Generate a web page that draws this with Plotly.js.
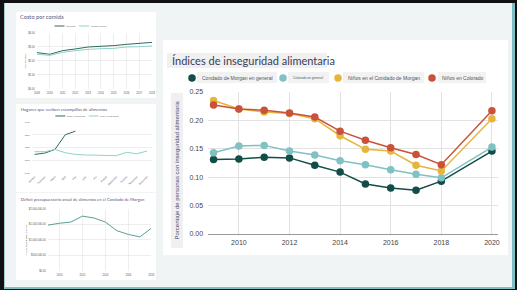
<!DOCTYPE html>
<html><head><meta charset="utf-8">
<script src="https://cdn.plot.ly/plotly-3.0.1.min.js"></script>
<style>
html,body{margin:0;padding:0;width:517px;height:292px;overflow:hidden;background:#fff;}
#black{position:absolute;left:0;top:0;width:517px;height:290px;background:#111;}
#inner{position:absolute;left:4px;top:3px;width:507px;height:284px;background:#f1f4f4;border-left:1px solid #9fd0d0;border-right:3px solid #7fbfc3;border-bottom:2px solid #7fbfc3;}
.chart{position:absolute;transform-origin:0 0;background:#fff;}
</style></head>
<body>
<div id="black"></div>
<div id="inner"></div>
<div id="c1" class="chart" style="left:16px;top:12px;transform:scale(0.3333);"></div>
<div id="c2" class="chart" style="left:16px;top:104px;transform:scale(0.3333);"></div>
<div id="c3" class="chart" style="left:16px;top:193px;transform:scale(0.3333);"></div>
<div id="cm" class="chart" style="left:163px;top:40px;transform:scale(0.5);"></div>
<script>
// ---------- data ----------
const mealYears = [2009,2010,2011,2012,2013,2014,2015,2016,2017,2018];
const mealColorado = [2.60,2.48,2.74,2.86,3.00,3.05,3.10,3.19,3.26,3.33];
const mealMorgan = [2.48,2.40,2.62,2.74,2.83,2.88,2.90,3.00,3.02,3.07];

const months = ['January','February','March','April','May','June','July','August','September','October','November','December'];
const households2020 = [1146,1156,1185,1300,1328];
const households2019 = [1167,1167,1185,1159,1146,1141,1140,1137,1136,1162,1151,1172];

const deficitYears = [2009,2010,2011,2012,2013,2014,2015,2016,2017,2018];
const deficitValues = [1480000,1540000,1580000,1770000,1710000,1580000,1300000,1180000,1100000,1380000];

const years = [2009,2010,2011,2012,2013,2014,2015,2016,2017,2018,2020];
const morganGeneral = [0.131,0.132,0.135,0.134,0.121,0.109,0.088,0.081,0.077,0.093,0.146];
const coloradoGeneral = [0.143,0.155,0.156,0.146,0.139,0.129,0.122,0.113,0.105,0.099,0.153];
const kidsMorgan = [0.235,0.220,0.215,0.212,0.203,0.173,0.149,0.146,0.121,0.111,0.203];
const kidsColorado = [0.227,0.220,0.218,0.213,0.206,0.181,0.165,0.152,0.140,0.122,0.217];
const seriesNames = ['Condado de Morgan en general','Colorado en general','Niños en el Condado de Morgan','Niños en Colorado'];

const cfg = {staticPlot:true, displayModeBar:false};
const tickFont = {family:'Liberation Sans, Arial, sans-serif', color:'#555'};
const darkGreen = '#2e6b5e', lightTeal = '#8fd1cc';

// ---------- panel 1: Costo por comida ----------
Plotly.newPlot('c1', [
  {x:mealYears, y:mealColorado, name:'Colorado', mode:'lines', line:{color:darkGreen, width:3}},
  {x:mealYears, y:mealMorgan, name:'Morgan County', mode:'lines', line:{color:lightTeal, width:3}}
], {
  width:420, height:258, margin:{l:63,r:12,t:63,b:27},
  paper_bgcolor:'#fff', plot_bgcolor:'#fff',
  title:{text:'Costo por comida', x:12/420, xref:'container', xanchor:'left', y:1-15/258, yref:'container', yanchor:'middle',
    font:{family:'Lato, sans-serif', size:17, color:'#55557a'}},
  showlegend:true,
  legend:{orientation:'h', x:0.38, xanchor:'center', y:1.125, yanchor:'middle', font:{size:7, color:'#666', family:'Liberation Sans'}},
  xaxis:{range:[2009,2018], dtick:1, showgrid:true, gridcolor:'#e6e6e6', gridwidth:2, zeroline:false,
    tickfont:{...tickFont, size:8}, ticks:'outside', ticklen:3, tickcolor:'rgba(0,0,0,0)'},
  yaxis:{range:[0,4], dtick:1, tickformat:'$.2f', showgrid:true, gridcolor:'#e6e6e6', gridwidth:2, zeroline:false,
    tickfont:{...tickFont, size:8}, ticks:'outside', ticklen:4, tickcolor:'rgba(0,0,0,0)',
    title:{text:'Cost Per Meal', font:{size:7, color:'#555', family:'Liberation Sans'}, standoff:4}}
}, cfg);

// ---------- panel 2: Hogares ----------
Plotly.newPlot('c2', [
  {x:months.slice(0,households2020.length), y:households2020, name:'2020 Households', mode:'lines', line:{color:darkGreen, width:3}},
  {x:months, y:households2019, name:'2019 Households', mode:'lines', line:{color:lightTeal, width:3}}
], {
  width:420, height:264, margin:{l:48,r:13,t:54,b:57},
  paper_bgcolor:'#fff', plot_bgcolor:'#fff',
  title:{text:'Hogares que reciben estampillas de alimentos', x:14/420, xref:'container', xanchor:'left', y:1-15/264, yref:'container', yanchor:'middle',
    font:{family:'Lato, sans-serif', size:13, color:'#55557a'}},
  showlegend:true,
  legend:{orientation:'h', x:0.46, xanchor:'center', y:1.118, yanchor:'middle', font:{size:7, color:'#666', family:'Liberation Sans'}},
  xaxis:{type:'category', range:[-0.25,11.45], showgrid:false, zeroline:false, tickangle:-45,
    tickfont:{...tickFont, size:7.5}, ticks:'outside', ticklen:3, tickcolor:'rgba(0,0,0,0)'},
  yaxis:{range:[1000,1400], dtick:100, showgrid:true, gridcolor:'#e6e6e6', gridwidth:2, zeroline:false,
    tickfont:{...tickFont, size:7}, ticks:'outside', ticklen:4, tickcolor:'rgba(0,0,0,0)'}
}, cfg);

// ---------- panel 3: Déficit ----------
Plotly.newPlot('c3', [
  {x:deficitYears, y:deficitValues, name:'Déficit', mode:'lines', line:{color:'#5c9e97', width:3}, showlegend:false}
], {
  width:420, height:261, margin:{l:96,r:14,t:48,b:27},
  paper_bgcolor:'#fff', plot_bgcolor:'#fff',
  title:{text:'Déficit presupuestario anual de alimentos en el Condado de Morgan', x:14/420, xref:'container', xanchor:'left', y:1-21/261, yref:'container', yanchor:'middle',
    font:{family:'Lato, sans-serif', size:12.5, color:'#55557a'}},
  xaxis:{range:[2009,2018], tickvals:[2010,2012,2014,2016,2018], showgrid:true, gridcolor:'#e6e6e6', gridwidth:2, zeroline:false,
    tickfont:{...tickFont, size:8}, ticks:'outside', ticklen:3, tickcolor:'rgba(0,0,0,0)'},
  yaxis:{range:[0,2000000], dtick:500000, tickformat:'$,.2f', showgrid:true, gridcolor:'#e6e6e6', gridwidth:2, zeroline:false,
    tickfont:{...tickFont, size:8}, ticks:'outside', ticklen:4, tickcolor:'rgba(0,0,0,0)',
    title:{text:'Annual Food Budget Shortfall', font:{size:7, color:'#555', family:'Liberation Sans'}, standoff:4}}
}, cfg);

// ---------- main chart ----------
const mainColors = ['#124d47','#80c1c4','#e6b53b','#c8523a'];
const mainSeries = [morganGeneral, coloradoGeneral, kidsMorgan, kidsColorado];
const legendIds = ['legend','legend2','legend3','legend4'];
const legendX = [-0.0897, 0.2241, 0.4138, 0.7379];
const legendFont = [10, 6.6, 10, 10];
const traces = [];
mainSeries.forEach((vals, i) => {
  traces.push({x:years, y:vals, mode:'lines', line:{color:mainColors[i], width:3}, showlegend:false, name:seriesNames[i]});
  traces.push({x:years, y:vals, mode:'markers', marker:{color:mainColors[i], size:15}, name:seriesNames[i], legend:legendIds[i]});
});
const mainLayout = {
  width:690, height:430, margin:{l:90,r:20,t:104,b:42},
  paper_bgcolor:'#fff', plot_bgcolor:'#fff',
  title:{text:'Índices de inseguridad alimentaria', x:18/690, xref:'container', xanchor:'left', y:1-42/430, yref:'container', yanchor:'middle',
    font:{family:'Lato, sans-serif', size:22, color:'#3b3b58'}},
  xaxis:{range:[2008.78,2020.24], tickvals:[2010,2012,2014,2016,2018,2020], showgrid:true, gridcolor:'#e2e2e2', gridwidth:2,
    zeroline:false, showline:false, tickfont:{...tickFont, size:14, color:'#444'}, ticks:'outside', ticklen:4, tickcolor:'rgba(0,0,0,0)'},
  yaxis:{range:[0,0.25], dtick:0.05, tickformat:'.2f', showgrid:true, gridcolor:'#e2e2e2', gridwidth:2,
    zeroline:true, zerolinecolor:'#999', zerolinewidth:2, tickfont:{...tickFont, size:14, color:'#444'}, ticks:'outside', ticklen:6, tickcolor:'rgba(0,0,0,0)'},
  shapes:[
    {type:'rect', xref:'paper', yref:'paper', x0:-0.1414, x1:0.4103, y0:1.169, y1:1.2746, fillcolor:'#f0f0f0', line:{width:0}, layer:'below'},
    {type:'rect', xref:'paper', yref:'paper', x0:-0.1276, x1:-0.0862, y0:-0.0986, y1:0.993, fillcolor:'#f0f0f0', line:{width:0}, layer:'below'},
    {type:'rect', xref:'paper', yref:'paper', x0:-0.0379, x1:0.2379, y0:1.0634, y1:1.1408, fillcolor:'#f2f2f2', line:{width:0}, layer:'below'},
    {type:'rect', xref:'paper', yref:'paper', x0:0.2759, x1:0.4172, y0:1.0634, y1:1.1408, fillcolor:'#f2f2f2', line:{width:0}, layer:'below'},
    {type:'rect', xref:'paper', yref:'paper', x0:0.4655, x1:0.7448, y0:1.0634, y1:1.1408, fillcolor:'#f2f2f2', line:{width:0}, layer:'below'},
    {type:'rect', xref:'paper', yref:'paper', x0:0.7931, x1:0.9586, y0:1.0634, y1:1.1408, fillcolor:'#f2f2f2', line:{width:0}, layer:'below'}
  ],
  annotations:[
    {text:'Porcentaje de personas con inseguridad alimentaria', xref:'paper', yref:'paper', x:-0.107, y:0.4507, textangle:-90,
      showarrow:false, xanchor:'center', yanchor:'middle', font:{family:'Liberation Sans, Arial', size:12, color:'#4a4a6e'}}
  ]
};
legendIds.forEach((id, i) => {
  mainLayout[id] = {orientation:'h', x:legendX[i], xanchor:'left', y:1.0986, yanchor:'middle', bgcolor:'rgba(0,0,0,0)',
    font:{family:'Liberation Sans, Arial', size:legendFont[i], color:'#555'}};
});
Plotly.newPlot('cm', traces, mainLayout, cfg);
</script>
</body></html>
